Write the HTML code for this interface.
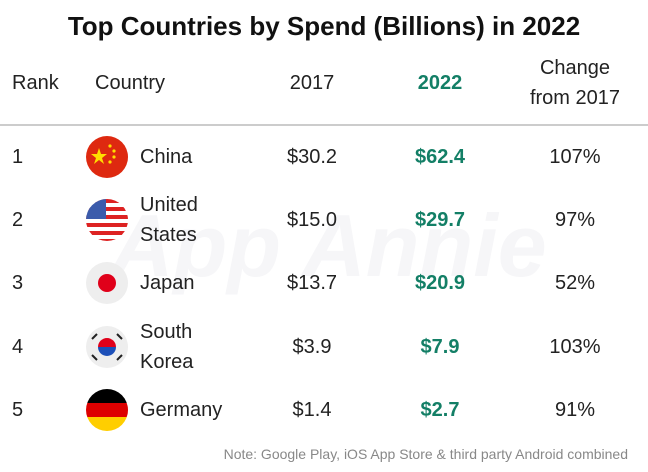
<!DOCTYPE html>
<html><head><meta charset="utf-8"><style>
body{margin:0;width:648px;height:472px;background:#fff;font-family:"Liberation Sans",sans-serif;color:#222;position:relative;overflow:hidden}
.a{position:absolute;white-space:nowrap}
.t{font-size:20px;line-height:30px;transform:translateY(-50%)}
.c{transform:translate(-50%,-50%);text-align:center}
.g{color:#137f66;font-weight:bold}
</style></head><body>
<div class="a" style="left:110px;top:195px;font-size:88px;font-weight:bold;font-style:italic;color:#f6f6f8">App Annie</div>
<div class="a" style="left:0;width:648px;top:11px;text-align:center;font-size:26px;font-weight:bold;color:#111">Top Countries by Spend (Billions) in 2022</div>
<div class="a t" style="left:12px;top:83px">Rank</div>
<div class="a t" style="left:95px;top:83px">Country</div>
<div class="a t c" style="left:312px;top:83px">2017</div>
<div class="a t c g" style="left:440px;top:83px">2022</div>
<div class="a t c" style="left:575px;top:83px;line-height:30px">Change<br>from 2017</div>
<div class="a" style="left:0;width:648px;top:124px;height:2px;background:#ccc"></div>
<div id="rows"></div>
<div class="a" style="right:20px;top:446px;font-size:14px;color:#888">Note: Google Play, iOS App Store &amp; third party Android combined</div>
<script>
const ranks=["1","2","3","4","5"];
const countries=["China","United<br>States","Japan","South<br>Korea","Germany"];
const v2017=["$30.2","$15.0","$13.7","$3.9","$1.4"];
const v2022=["$62.4","$29.7","$20.9","$7.9","$2.7"];
const change=["107%","97%","52%","103%","91%"];
const flags=[
'<circle cx="21" cy="21" r="21" fill="#de2910"/><polygon points="13,12 15,18 21,18 16,22 18,28 13,24 8,28 10,22 5,18 11,18" fill="#ffde00"/><circle cx="24" cy="10" r="1.6" fill="#ffde00"/><circle cx="28" cy="15" r="1.6" fill="#ffde00"/><circle cx="28" cy="21" r="1.6" fill="#ffde00"/><circle cx="24" cy="26" r="1.6" fill="#ffde00"/>',
'<clipPath id="us"><circle cx="21" cy="21" r="21"/></clipPath><g clip-path="url(#us)"><rect width="42" height="42" fill="#fff"/><rect y="0" width="42" height="4" fill="#d22"/><rect y="8" width="42" height="4" fill="#d22"/><rect y="16" width="42" height="4" fill="#d22"/><rect y="24" width="42" height="4" fill="#d22"/><rect y="32" width="42" height="4" fill="#d22"/><rect y="40" width="42" height="4" fill="#d22"/><rect width="20" height="20" fill="#3b5bab"/></g>',
'<circle cx="21" cy="21" r="21" fill="#eee"/><circle cx="21" cy="21" r="9" fill="#e0001a"/>',
'<circle cx="21" cy="21" r="21" fill="#eee"/><path d="M12,21a9,9 0 0 1 18,0z" fill="#e0001a"/><path d="M12,21a9,9 0 0 0 18,0z" fill="#1c4fb8"/><g stroke="#222" stroke-width="2"><line x1="6" y1="13" x2="11" y2="8"/><line x1="31" y1="8" x2="36" y2="13"/><line x1="6" y1="29" x2="11" y2="34"/><line x1="31" y1="34" x2="36" y2="29"/></g>',
'<clipPath id="de"><circle cx="21" cy="21" r="21"/></clipPath><g clip-path="url(#de)"><rect width="42" height="14" fill="#000"/><rect y="14" width="42" height="14" fill="#dd0000"/><rect y="28" width="42" height="14" fill="#ffce00"/></g>'];
const rowTop=157, rowStep=63.2;
const host=document.getElementById('rows');
ranks.forEach((r,i)=>{
  const y=rowTop+i*rowStep;
  const add=(html,cls,style,name)=>{const d=document.createElement('div');d.className='a t '+cls;d.style.cssText=style+';top:'+y+'px';d.innerHTML=html;
    
    
    host.appendChild(d);};
  add(r,'','left:12px','rank-cell');
  add(countries[i],'',"left:140px;line-height:30px",'country-cell');
  add(v2017[i],'c','left:312px','value-2017');
  add(v2022[i],'c g','left:440px','value-2022');
  add(change[i],'c','left:575px','change-cell');
  const f=document.createElement('div');f.className='a';f.style.cssText='left:86px;top:'+(y-21)+'px;width:42px;height:42px';
  f.innerHTML='<svg width="42" height="42">'+flags[i]+'</svg>';
  
  
  host.appendChild(f);
});
</script>
</body></html>
